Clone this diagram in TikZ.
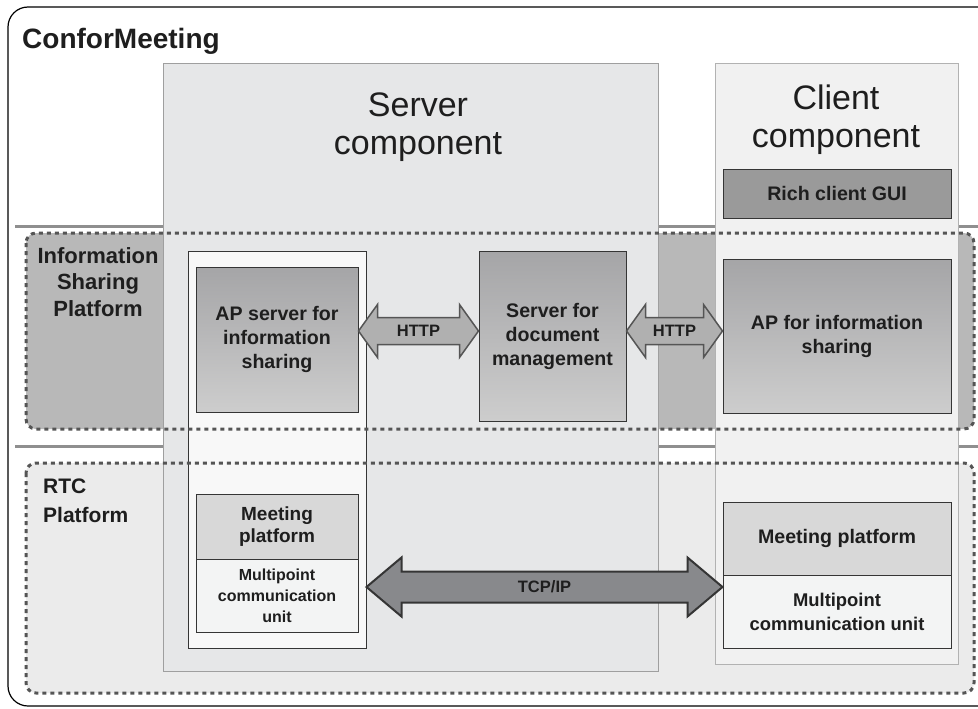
\documentclass[tikz,border=0pt]{standalone}
\usepackage{fontspec}
\setmainfont{Liberation Sans}
\usepackage{tikz}
\usetikzlibrary{calc}
\usetikzlibrary{shapes}
\definecolor{srvgray}{HTML}{E6E7E8}
\definecolor{cligray}{HTML}{F1F1F1}
\definecolor{infogray}{HTML}{B8B8B8}
\definecolor{rtcgray}{HTML}{EBEBEB}
\definecolor{gradtop}{HTML}{A5A5A7}
\definecolor{gradbot}{HTML}{CDCDCD}
\definecolor{meetgray}{HTML}{D8D8D8}
\definecolor{mcugray}{HTML}{F3F4F4}
\definecolor{guigray}{HTML}{9A9A9A}
\definecolor{linegray}{HTML}{8F8F8F}
\definecolor{dotgray}{HTML}{555555}
\definecolor{inkgray}{HTML}{1E1E1E}
\definecolor{httpgray}{HTML}{B0B0B0}
\definecolor{tcpgray}{HTML}{88898C}
\newcommand{\fnttitle}{\fontsize{28}{32}\bfseries\selectfont}
\newcommand{\fntbig}{\fontsize{34}{38}\selectfont}
\newcommand{\fntbox}{\fontsize{19.6}{24}\bfseries\selectfont}
\newcommand{\fntunit}{\fontsize{18.4}{24}\bfseries\selectfont}
\newcommand{\fntsmall}{\fontsize{16}{21}\bfseries\selectfont}
\newcommand{\fnttag}{\fontsize{16.5}{20}\bfseries\selectfont}
\newcommand{\fntlab}{\fontsize{22}{26.5}\bfseries\selectfont}
\newcommand{\fntrtc}{\fontsize{21}{29}\bfseries\selectfont}
% wide double arrow: style, from, to, head length, head half width, shaft half width
\newcommand{\widearrow}[6]{%
  \draw[#1] (#2) -- ($(#2)+(#4,-#5)$) -- ($(#2)+(#4,-#6)$) -- ($(#3)+(-#4,-#6)$)
    -- ($(#3)+(-#4,-#5)$) -- (#3) -- ($(#3)+(-#4,#5)$) -- ($(#3)+(-#4,#6)$)
    -- ($(#2)+(#4,#6)$) -- ($(#2)+(#4,#5)$) -- cycle;}
\tikzstyle{component}=[rectangle,inner sep=0mm,line width=1pt]
\tikzstyle{unitbox}=[rectangle,draw=inkgray!90,line width=1pt,inner sep=0mm,align=center,text=inkgray,font=\fntbox]
\tikzstyle{gradbox}=[unitbox,top color=gradtop,bottom color=gradbot]
\tikzstyle{bandline}=[draw=dotgray,line width=3pt,dash pattern=on 4pt off 4pt,rounded corners=10pt]
\tikzstyle{sepline}=[draw=linegray,line width=3pt]
\tikzstyle{fatarrow}=[line width=1.5pt,line join=miter]
\tikzstyle{taglabel}=[text=inkgray,font=\fnttag]
\tikzstyle{bigtitle}=[text=inkgray,font=\fntbig,align=center]

\begin{document}
\begin{tikzpicture}[x=1pt,y=-1pt]
  \useasboundingbox (0,0) rectangle (978,709);
  \clip (0,0) rectangle (978,709);
  \fill[white] (0,0) rectangle (978,709);
  \draw[black,line width=1.2pt,rounded corners=20pt] (8,7) rectangle (1010,706);
  \node[anchor=base west,inner sep=0,text=inkgray,font=\fnttitle] at (22,49) (title) {ConforMeeting};

  % platform layers
  \draw[sepline] (15,226) -- (978,226);
  \draw[sepline] (15,446) -- (978,446);
  \fill[infogray,rounded corners=10pt] (26,233) rectangle (974,429);
  \fill[rtcgray,rounded corners=10pt] (26,463) rectangle (974,693);

  % components
  \node[component,draw=gray!75,fill=srvgray,minimum width=495pt,minimum height=607pt] at (410.5,367.5) (srvcomp) {};
  \node[component,draw=gray!60,fill=cligray,minimum width=243pt,minimum height=600pt] at (836.5,364) (clicomp) {};
  \node[bigtitle] at (418,127) (srvtitle) {Server\\component};
  \node[bigtitle] at (836,120) (clititle) {Client\\component};
  \node[unitbox,fill=guigray,minimum width=228pt,minimum height=49pt] at (837,193.5) (richgui) {Rich client GUI};

  \node[unitbox,fill=mcugray!60!white,minimum width=178pt,minimum height=397pt] at (277,449.5) (srvcol) {};
  \node[gradbox,minimum width=162pt,minimum height=145pt] at (277,339.5) (apsrv) {AP server for\\information\\sharing};
  \node[gradbox,minimum width=147pt,minimum height=170pt] at (552.5,336) (docsrv) {Server for\\document\\management};
  \node[gradbox,minimum width=228pt,minimum height=154pt] at (837,336) (apcli) {AP for information\\sharing};

  \node[unitbox,fill=meetgray,minimum width=162pt,minimum height=65pt,font=\fontsize{19}{22.5}\bfseries\selectfont] at (277,526.5) (srvmeet) {Meeting\\platform};
  \node[unitbox,fill=mcugray,minimum width=162pt,minimum height=73pt,font=\fntsmall] at (277,595.5) (srvmcu) {Multipoint\\communication\\unit};
  \node[unitbox,fill=meetgray,minimum width=228pt,minimum height=73pt] at (837,538.5) (climeet) {Meeting platform};
  \node[unitbox,fill=mcugray,minimum width=228pt,minimum height=73pt,font=\fntunit] at (837,611.5) (climcu) {Multipoint\\communication unit};

  % dotted platform borders
  \draw[bandline] (26,233) rectangle (974,429);
  \draw[bandline] (26,463) rectangle (974,693);
  \node[text=inkgray,font=\fntlab,align=center] at (98,282) (infolab) {Information\\Sharing\\Platform};
  \node[text=inkgray,font=\fntrtc,align=left,anchor=west,inner sep=0] at (43,501) (rtclab) {RTC\\Platform};

  % protocols
  \coordinate (httpy) at (0,331);
  \coordinate (tcpy) at (0,587);
  \coordinate (h1a) at (apsrv.east |- httpy);
  \coordinate (h1b) at (docsrv.west |- httpy);
  \coordinate (h2a) at (docsrv.east |- httpy);
  \coordinate (h2b) at (apcli.west |- httpy);
  \coordinate (t1a) at (srvcol.east |- tcpy);
  \coordinate (t1b) at (climcu.west |- tcpy);
  \widearrow{fatarrow,fill=httpgray,draw=dotgray}{h1a}{h1b}{19}{26.5}{13.5}
  \widearrow{fatarrow,fill=httpgray,draw=dotgray}{h2a}{h2b}{19}{26.5}{13.5}
  \widearrow{fatarrow,line width=2pt,fill=tcpgray,draw=inkgray!90}{t1a}{t1b}{35}{29.5}{15.5}
  \node[taglabel] at ($(h1a)!0.5!(h1b)$) (http1) {HTTP};
  \node[taglabel] at ($(h2a)!0.5!(h2b)$) (http2) {HTTP};
  \node[taglabel] at ($(t1a)!0.5!(t1b)$) (tcpip) {TCP/IP};
\end{tikzpicture}
\end{document}
